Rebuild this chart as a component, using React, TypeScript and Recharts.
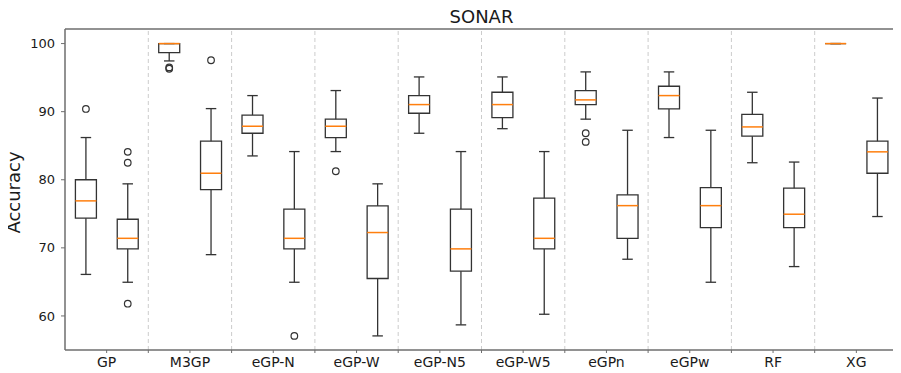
import React from 'react';
import { ComposedChart, Bar, XAxis, YAxis, ReferenceLine } from 'recharts';

const categories = ['GP', 'M3GP', 'eGP-N', 'eGP-W', 'eGP-N5', 'eGP-W5', 'eGPn', 'eGPw', 'RF', 'XG'];

const trainMin = [66.1, 97.45, 83.5, 84.14, 86.83, 87.5, 88.9, 86.2, 82.5, 100];
const trainQ1 = [74.36, 98.68, 86.83, 86.2, 89.77, 89.13, 91.04, 90.4, 86.4, 100];
const trainMedian = [76.9, 100, 87.86, 87.86, 91.04, 91.04, 91.73, 92.36, 87.76, 100];
const trainQ3 = [80.0, 100, 89.5, 88.9, 92.36, 92.85, 93.1, 93.73, 89.6, 100];
const trainMax = [86.2, 100, 92.36, 93.1, 95.1, 95.1, 95.84, 95.84, 92.85, 100];
const trainOutliers = [[90.4], [96.3, 96.5], [], [81.25], [], [], [86.83, 85.56], [], [], []];

const testMin = [64.95, 69.0, 64.95, 57.07, 58.69, 60.25, 68.33, 64.95, 67.25, 74.6];
const testQ1 = [69.85, 78.56, 69.85, 65.5, 66.57, 69.85, 71.4, 72.98, 72.98, 80.96];
const testMedian = [71.4, 80.96, 71.4, 72.25, 69.85, 71.4, 76.2, 76.2, 74.94, 84.1];
const testQ3 = [74.2, 85.66, 75.7, 76.16, 75.7, 77.3, 77.78, 78.85, 78.76, 85.66];
const testMax = [79.4, 90.45, 84.14, 79.4, 84.14, 84.14, 87.27, 87.27, 82.6, 92.0];
const testOutliers = [[84.1, 82.5, 61.8], [97.55], [57.07], [], [], [], [], [], [], []];

const yTicks = [60, 70, 80, 90, 100];
const yDomain: [number, number] = [55.0, 102.14];

const data = categories.map((name, i) => ({
  name,
  train: { min: trainMin[i], q1: trainQ1[i], med: trainMedian[i], q3: trainQ3[i], max: trainMax[i], out: trainOutliers[i] },
  test: { min: testMin[i], q1: testQ1[i], med: testMedian[i], q3: testQ3[i], max: testMax[i], out: testOutliers[i] },
  trainRange: [trainMin[i], trainMax[i]],
  testRange: [testMin[i], testMax[i]],
}));

const FONT = 'DejaVu Sans, sans-serif';
const BOX = '#333333';
const SPINE = '#6e6e6e';
const MEDIAN = '#ff7f0e';
const X_TICK_SIZE = 3;
const X_TICK_MARGIN = 4;

const makeBoxShape = (kind: 'train' | 'test') => (props: any) => {
  const { x, y, width, height, payload } = props;
  const s = payload[kind];
  const top = Math.min(y, y + height);
  const bottom = Math.max(y, y + height);
  const span = s.max - s.min;
  const py = (v: number) => (span > 0 ? top + ((bottom - top) * (s.max - v)) / span : top);
  const cx = x + width / 2;
  const capHalf = width / 4;
  const yq1 = py(s.q1);
  const yq3 = py(s.q3);
  const ymed = py(s.med);
  const ymin = py(s.min);
  const ymax = py(s.max);
  return (
    <g>
      <line x1={cx} x2={cx} y1={ymax} y2={yq3} stroke={BOX} strokeWidth={1.3} />
      <line x1={cx} x2={cx} y1={yq1} y2={ymin} stroke={BOX} strokeWidth={1.3} />
      <line x1={cx - capHalf} x2={cx + capHalf} y1={ymax} y2={ymax} stroke={BOX} strokeWidth={1.3} />
      <line x1={cx - capHalf} x2={cx + capHalf} y1={ymin} y2={ymin} stroke={BOX} strokeWidth={1.3} />
      <path
        d={`M${x},${yq3} L${x + width},${yq3} L${x + width},${yq1} L${x},${yq1} Z`}
        fill="none"
        stroke={BOX}
        strokeWidth={1.3}
      />
      <line x1={x} x2={x + width} y1={ymed} y2={ymed} stroke={MEDIAN} strokeWidth={1.5} />
      {s.out.map((v: number, k: number) => (
        <circle key={k} cx={cx} cy={py(v)} r={3.3} fill="none" stroke={BOX} strokeWidth={1.2} />
      ))}
    </g>
  );
};

const XTick = (props: any) => {
  const { x, y, payload, index } = props;
  const half = payload && typeof payload.offset === 'number' ? payload.offset : 0;
  const axisY = y - X_TICK_SIZE - X_TICK_MARGIN;
  return (
    <g>
      {index > 0 && half > 0 ? (
        <line x1={x - half} x2={x - half} y1={axisY} y2={axisY + X_TICK_SIZE} stroke={SPINE} strokeWidth={1} />
      ) : null}
      <text x={x} y={y} dy="0.71em" textAnchor="middle" fontSize={14} fontFamily={FONT} fill="#1a1a1a">
        {payload.value}
      </text>
    </g>
  );
};

const YLabel = (props: any) => {
  const vb = props.viewBox || { x: 0, y: 29, width: 65, height: 321 };
  const cx = vb.x + 20;
  const cy = vb.y + vb.height / 2 + 3;
  return (
    <text
      x={cx}
      y={cy}
      transform={`rotate(-90 ${cx} ${cy})`}
      textAnchor="middle"
      fontSize={18}
      fontFamily={FONT}
      fill="#1a1a1a"
    >
      Accuracy
    </text>
  );
};

export default function App() {
  return (
    <div style={{ position: 'relative', width: 901, height: 373, marginLeft: -8, marginTop: -8 }}>
      <div
        style={{
          position: 'absolute',
          left: 65,
          width: 833,
          top: 8,
          lineHeight: '18px',
          fontSize: 18,
          textAlign: 'center',
          fontFamily: FONT,
          color: '#1a1a1a',
        }}
      >
        SONAR
      </div>
      <ComposedChart
        width={901}
        height={373}
        data={data}
        margin={{ top: 29, right: 3, bottom: 0, left: 0 }}
        barCategoryGap="12.5%"
        barGap="25%"
      >
        <XAxis
          dataKey="name"
          type="category"
          height={23}
          axisLine={{ stroke: SPINE, strokeWidth: 1.5 }}
          tickLine={{ stroke: SPINE, strokeWidth: 1 }}
          tickSize={X_TICK_SIZE}
          tickMargin={X_TICK_MARGIN}
          tick={<XTick />}
          interval={0}
        />
        <YAxis
          type="number"
          domain={yDomain}
          ticks={yTicks}
          allowDataOverflow
          width={65}
          axisLine={{ stroke: SPINE, strokeWidth: 1.5 }}
          tickLine={{ stroke: SPINE, strokeWidth: 1 }}
          tickSize={4}
          tickMargin={6}
          tick={{ fontSize: 13, fontFamily: FONT, fill: '#1a1a1a' }}
          label={<YLabel />}
        />
        {categories.slice(1).map((c) => (
          <ReferenceLine
            key={c}
            x={c}
            position="start"
            stroke="#cccccc"
            strokeWidth={1}
            strokeDasharray="4 3"
          />
        ))}
        <ReferenceLine y={yDomain[1]} stroke={SPINE} strokeWidth={1.5} />
        <ReferenceLine x={categories[categories.length - 1]} position="end" stroke={SPINE} strokeWidth={1.5} />
        <Bar dataKey="trainRange" shape={makeBoxShape('train')} isAnimationActive={false} />
        <Bar dataKey="testRange" shape={makeBoxShape('test')} isAnimationActive={false} />
      </ComposedChart>
    </div>
  );
}
